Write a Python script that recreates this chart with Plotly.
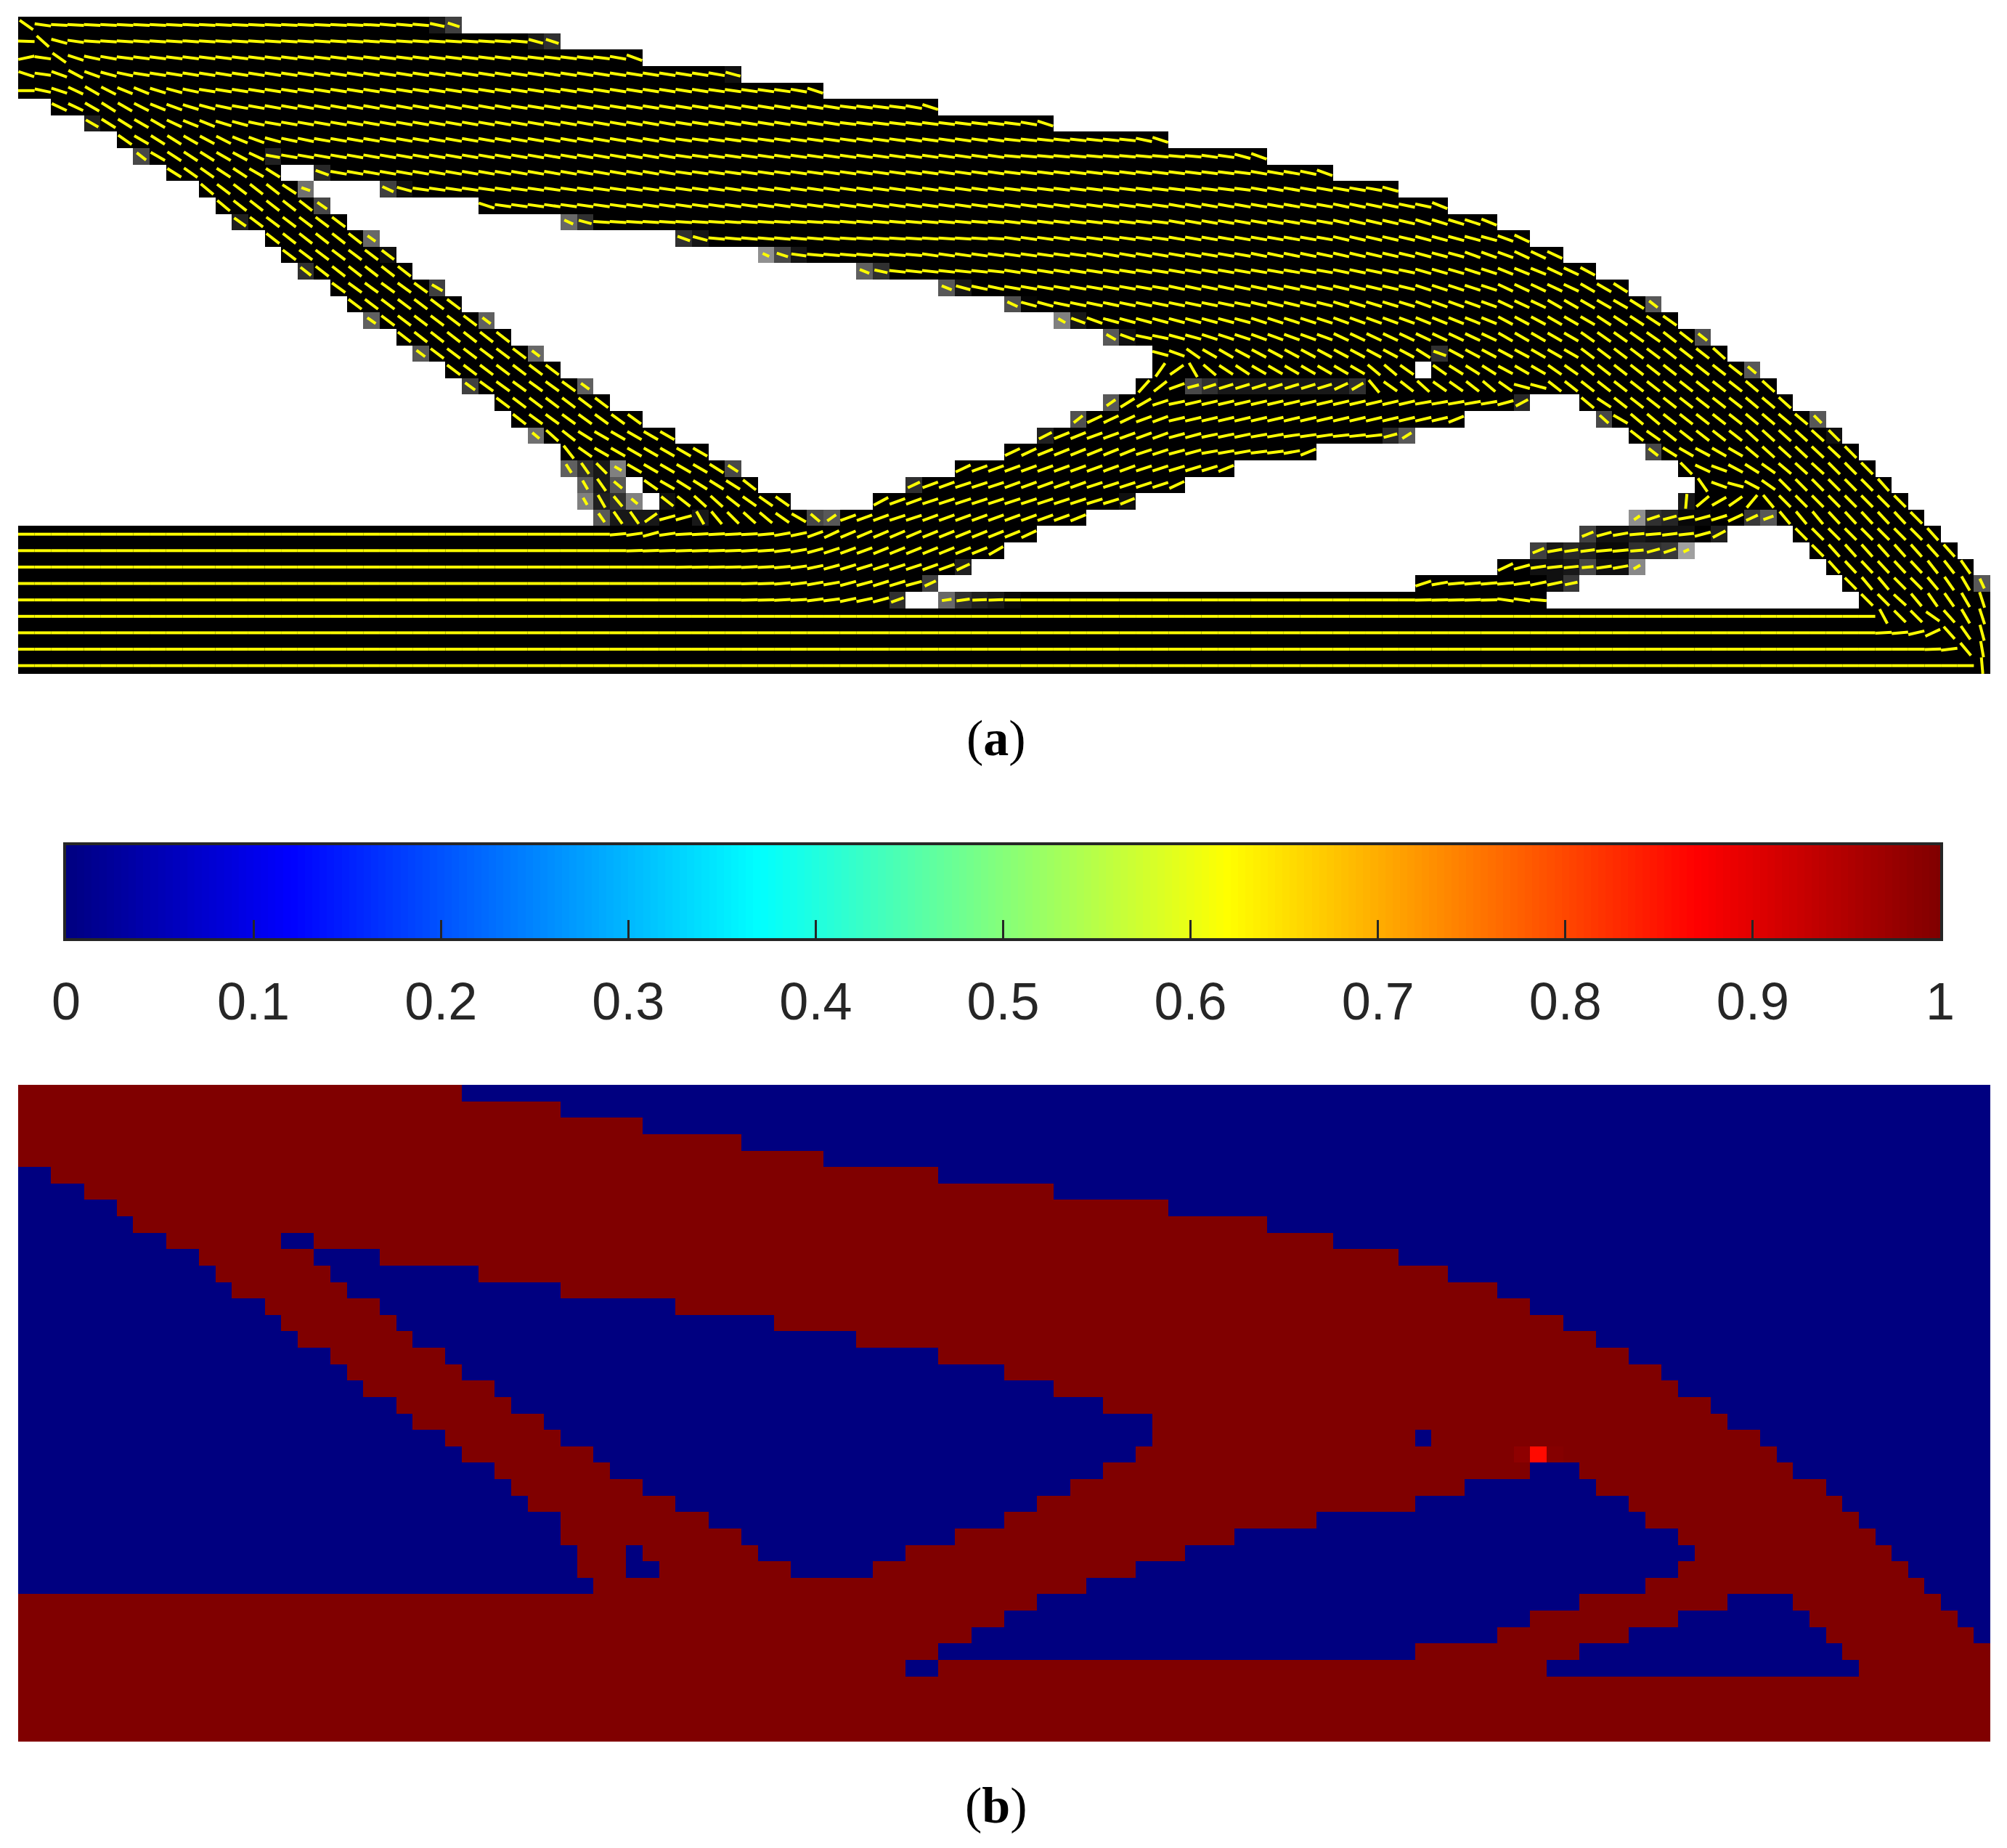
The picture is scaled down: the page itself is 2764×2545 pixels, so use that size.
import math
import numpy as np
import plotly.graph_objects as go

W, H = 2764, 2545
NROWS, NCOLS = 40, 120

# solid runs (first col, last col inclusive) per row, top to bottom
ROW_SPANS = [
    [(0, 26)], [(0, 32)], [(0, 37)], [(0, 43)], [(0, 48)],
    [(2, 55)], [(4, 62)], [(6, 69)], [(7, 75)],
    [(9, 15), (18, 79)], [(11, 17), (22, 83)], [(12, 18), (28, 86)],
    [(13, 19), (33, 89)], [(15, 21), (40, 91)], [(16, 22), (46, 93)],
    [(17, 23), (51, 95)], [(19, 25), (56, 97)], [(20, 26), (60, 99)],
    [(21, 28), (63, 100)], [(23, 29), (66, 102)], [(24, 31), (69, 103)],
    [(26, 32), (69, 84), (86, 105)], [(27, 34), (68, 106)],
    [(29, 35), (66, 91), (95, 107)], [(30, 37), (64, 87), (96, 109)],
    [(31, 39), (62, 84), (98, 110)], [(33, 41), (60, 78), (99, 111)],
    [(33, 43), (57, 73), (101, 112)],
    [(34, 36), (38, 44), (54, 70), (102, 113)],
    [(34, 36), (39, 46), (52, 67), (101, 114)],
    [(35, 64), (99, 115)], [(0, 61), (95, 103), (108, 116)],
    [(0, 59), (92, 100), (109, 117)], [(0, 57), (90, 97), (110, 118)],
    [(0, 55), (85, 94), (111, 119)], [(0, 53), (56, 92), (112, 119)],
    [(0, 119)], [(0, 119)], [(0, 119)], [(0, 119)],
]
# cells solid only in panel (a)
EXTRA_CELLS_A = [(14, 45), (29, 37), (30, 98), (32, 101), (33, 98)]

# partially dense cells of panel (a): row, col, grey level shown
GRAY_CELLS = [
    (0,25,0x18),(0,26,0x40),(1,31,0x18),(1,32,0x30),(6,4,0x20),(8,7,0x48),(8,15,0x20),(9,18,0x28),
    (10,17,0x70),(10,22,0x40),(10,23,0x10),(11,18,0x48),(12,13,0x20),(12,33,0x68),(12,34,0x30),
    (13,21,0x68),(14,22,0x10),(15,17,0x30),(16,25,0x40),(18,21,0x60),(18,28,0x60),(20,24,0x58),
    (20,31,0x68),(22,27,0x40),(22,34,0x60),(25,31,0x70),(27,33,0x60),(27,34,0x30),(27,35,0x18),
    (27,36,0x80),(28,34,0x60),(28,35,0x18),(28,36,0x58),(29,34,0x80),(29,35,0x20),(29,36,0x30),
    (29,37,0x80),(29,39,0x10),(30,35,0x58),(30,36,0x18),(30,37,0x18),(30,38,0x18),
    (3,43,0x10),(13,40,0x30),(13,41,0x15),(14,45,0x90),(14,46,0x48),(14,47,0x15),(15,51,0x60),
    (15,52,0x30),(16,56,0x58),(16,57,0x18),(17,60,0x50),(17,61,0x05),(18,63,0x80),(18,64,0x18),
    (19,66,0x58),(19,67,0x10),(22,71,0x48),(22,72,0x30),(22,73,0x18),(22,74,0x18),(22,75,0x18),
    (22,76,0x18),(22,77,0x18),(22,78,0x18),(22,79,0x18),(22,80,0x18),(22,81,0x30),(23,66,0x58),
    (24,64,0x50),(25,62,0x20),(27,43,0x48),(28,54,0x30),(29,67,0x10),(30,41,0x18),(30,48,0x48),
    (30,49,0x58),(33,57,0x20),(34,55,0x40),(35,53,0x30),(35,56,0x68),(35,57,0x30),(35,58,0x20),
    (35,59,0x18),(35,60,0x08),(20,86,0x30),(23,91,0x28),(25,83,0x28),(25,84,0x58),(17,99,0x58),
    (19,102,0x50),(21,105,0x58),(24,109,0x58),(24,96,0x48),(25,110,0x10),(26,99,0x48),(29,101,0x18),
    (30,98,0x90),(30,99,0x30),(30,100,0x25),(30,101,0x08),(30,102,0x08),(30,105,0x38),(30,106,0x58),
    (31,95,0x40),(31,96,0x10),(31,97,0x10),(31,98,0x18),(31,99,0x10),(31,100,0x10),(31,101,0x10),
    (31,103,0x20),(32,92,0x40),(32,93,0x18),(32,94,0x28),(32,95,0x20),(32,96,0x08),(32,97,0x08),
    (32,98,0x30),(32,99,0x30),(32,100,0x38),(32,101,0xA0),(33,92,0x10),(33,93,0x10),(33,94,0x18),
    (33,95,0x48),(33,96,0x10),(33,97,0x10),(33,98,0x88),(34,93,0x10),(34,94,0x38),(34,119,0x58),
]
# partially filled cells of panel (b): row, col, value
PARTIAL_B = [(22, 91, 0.986), (22, 92, 0.86), (22, 93, 0.995)]

# fibre angle readings, degrees, per row: (from col, angle)
ROW_ANGLES = [
    [(0,-35),(1,-8),(2,-3),(22,-5),(25,-12),(26,-18)],
    [(0,-2),(1,-42),(2,-15),(3,-8),(4,-4),(30,-5),(31,-15),(32,-18)],
    [(0,12),(1,-8),(2,-35),(3,-18),(4,-12),(5,-10),(6,-7),(36,-10),(37,-20)],
    [(0,-18),(1,-8),(2,-20),(3,-28),(4,-20),(5,-15),(6,-12),(7,-9),(42,-10),(43,-15)],
    [(0,0),(1,-12),(2,-18),(3,-25),(4,-30),(5,-27),(6,-22),(8,-17),(9,-15),(10,-12),(11,-9),(42,-8),(47,-10),(48,-18)],
    [(2,-25),(4,-30),(5,-32),(6,-30),(7,-27),(8,-22),(9,-20),(10,-17),(11,-15),(12,-12),(13,-10),(30,-9),(50,-7),(54,-10),(55,-18)],
    [(4,-30),(5,-32),(7,-30),(9,-25),(10,-22),(12,-17),(13,-15),(14,-12),(15,-10),(40,-9),(50,-7),(61,-10),(62,-18)],
    [(6,-35),(7,-30),(8,-32),(10,-30),(11,-28),(12,-27),(13,-22),(14,-20),(15,-15),(16,-12),(18,-10),(40,-8),(60,-6),(68,-12),(69,-18)],
    [(7,-38),(8,-30),(9,-33),(11,-32),(12,-30),(13,-28),(14,-25),(15,-10),(40,-8),(60,-5),(72,-8),(74,-15),(75,-20)],
    [(9,-32),(10,-35),(12,-33),(14,-30),(15,-32),(18,-20),(19,-10),(40,-8),(60,-7),(75,-10),(78,-12),(79,-20)],
    [(11,-40),(12,-37),(14,-38),(16,-33),(17,-20),(22,-25),(23,-15),(24,-8),(60,-7),(75,-10),(83,-15)],
    [(12,-40),(13,-38),(18,-35),(28,-18),(29,-8),(60,-8),(70,-10),(80,-12),(86,-22)],
    [(13,-35),(14,-37),(33,-25),(34,-15),(35,-4),(50,-5),(60,-7),(70,-10),(80,-13),(85,-17),(88,-18),(89,-22)],
    [(15,-38),(21,-35),(40,-20),(41,-15),(42,-5),(50,-4),(60,-8),(70,-10),(80,-13),(85,-15),(90,-20),(91,-25)],
    [(16,-37),(45,-25),(46,-18),(47,-8),(48,-5),(55,-8),(65,-10),(75,-12),(80,-13),(85,-15),(88,-20),(91,-25)],
    [(17,-38),(51,-22),(52,-12),(53,-6),(60,-9),(70,-10),(80,-12),(85,-16),(88,-18),(90,-22),(93,-25),(95,-28)],
    [(19,-36),(25,-30),(56,-22),(57,-15),(58,-12),(60,-10),(70,-12),(80,-13),(85,-18),(90,-25),(95,-30),(97,-32)],
    [(20,-37),(60,-25),(61,-15),(63,-12),(75,-14),(80,-17),(85,-20),(90,-25),(93,-30),(98,-32),(99,-38)],
    [(21,-35),(22,-37),(63,-30),(64,-20),(66,-15),(75,-18),(80,-20),(85,-22),(90,-28),(93,-30),(96,-33),(100,-35)],
    [(23,-38),(66,-30),(67,-20),(68,-12),(70,-15),(72,-18),(75,-20),(80,-25),(90,-30),(95,-35),(100,-38)],
    [(24,-37),(69,-15),(70,-20),(71,-35),(72,-30),(74,-28),(85,-32),(86,-20),(87,-28),(92,-30),(95,-37),(100,-38),(103,-42)],
    [(26,-37),(69,55),(70,35),(71,-60),(72,-40),(73,-33),(75,-30),(82,-40),(84,-35),(87,-32),(90,-28),(91,-30),(93,-35),(95,-38),(105,-40)],
    [(27,-36),(68,48),(69,38),(70,20),(71,15),(72,18),(73,17),(80,25),(81,30),(82,-50),(83,-35),(84,-38),(85,-42),(86,-35),(88,-38),(89,-40),(90,-35),(91,-15),(93,-38),(105,-40),(106,-42)],
    [(29,-37),(66,35),(67,32),(68,30),(69,18),(70,12),(71,13),(85,10),(90,15),(91,28),(95,-40),(96,-33),(97,-38),(105,-40),(107,-42)],
    [(30,-38),(31,-36),(64,38),(65,25),(68,20),(70,13),(87,22),(96,-42),(97,-30),(98,-40),(100,-38),(105,-40),(109,-45)],
    [(31,-40),(32,-42),(33,-38),(34,-32),(35,-30),(62,27),(63,22),(65,20),(70,15),(72,12),(75,10),(77,8),(80,6),(83,15),(84,32),(98,-38),(99,-35),(100,-38),(105,-42),(110,-45)],
    [(33,-52),(34,-35),(35,-30),(60,25),(62,22),(68,18),(70,15),(72,10),(75,7),(77,10),(78,22),(99,-38),(100,-32),(101,-30),(102,-28),(103,-30),(105,-40),(106,-42),(108,-43),(111,-45)],
    [(33,-58),(34,-55),(35,-45),(36,-30),(42,-32),(43,-33),(57,25),(58,20),(68,18),(70,17),(73,22),(101,-45),(102,-25),(103,-20),(104,-28),(105,-32),(106,-35),(107,-40),(108,-42),(110,-45)],
    [(34,-60),(35,-55),(36,-40),(38,-35),(39,-30),(40,-32),(44,-38),(54,25),(55,20),(57,18),(60,20),(65,18),(70,25),(102,-55),(103,-20),(104,-15),(105,-28),(106,-35),(107,-45),(113,-48)],
    [(34,-60),(36,-50),(37,-40),(39,-38),(41,-42),(43,-38),(44,-35),(52,28),(53,20),(55,18),(65,17),(67,22),(101,85),(102,40),(103,30),(104,35),(105,50),(106,-50),(107,-45)],
    [(35,-55),(38,35),(39,15),(41,-60),(42,-50),(43,-45),(44,-42),(45,-40),(46,-35),(47,-30),(48,-40),(49,35),(50,20),(53,18),(55,20),(64,22),(98,35),(99,18),(100,15),(101,10),(102,15),(103,17),(104,25),(106,20),(107,-50),(110,-47),(115,-45)],
    [(0,0),(36,5),(37,8),(38,15),(39,8),(40,3),(45,5),(46,10),(47,12),(48,20),(49,25),(50,23),(55,22),(61,25),(95,22),(96,15),(97,10),(98,5),(100,7),(101,6),(102,15),(103,28),(108,-45),(116,-48)],
    [(0,0),(37,2),(44,4),(46,7),(47,10),(48,15),(49,18),(50,20),(52,22),(59,30),(92,22),(93,10),(94,8),(95,7),(96,5),(99,15),(100,18),(101,25),(109,-45),(110,-48)],
    [(0,0),(40,1),(44,3),(46,5),(47,8),(48,12),(49,15),(50,17),(52,18),(55,20),(57,25),(90,25),(91,15),(92,8),(93,6),(95,5),(96,8),(97,10),(98,30),(110,-48),(111,-47),(116,-52),(118,-55)],
    [(0,0),(44,2),(46,5),(47,7),(48,10),(50,15),(52,17),(54,15),(55,25),(85,18),(86,10),(87,5),(91,8),(92,12),(111,-45),(112,-50),(114,-45),(116,-50),(117,-55),(118,-60),(119,-65)],
    [(0,0),(44,1),(46,3),(48,7),(50,12),(52,15),(53,20),(56,8),(58,2),(60,0),(85,1),(88,2),(89,1),(90,-8),(92,-5),(112,-45),(114,-42),(115,-50),(116,-55),(118,-60),(119,-72)],
    [(0,0),(113,-62),(114,-45),(116,-35),(117,-48),(118,-60),(119,-72)],
    [(0,0),(113,3),(114,5),(115,13),(116,25),(117,-48),(118,-55),(119,-75)],
    [(0,0),(116,2),(117,7),(118,-50),(119,-80)],
    [(0,0),(119,-85)],
]

CBAR_TICKS = [0, 0.1, 0.2, 0.3, 0.4, 0.5, 0.6, 0.7, 0.8, 0.9, 1]
CBAR_LABELS = ["0", "0.1", "0.2", "0.3", "0.4", "0.5", "0.6", "0.7", "0.8", "0.9", "1"]
JET = [[0, "#000080"], [0.12, "#0000ff"], [0.37, "#00ffff"], [0.62, "#ffff00"],
       [0.87, "#ff0000"], [1, "#800000"]]
CAPTIONS = ["(<b>a</b>)", "(<b>b</b>)"]

# ---- fields built from the readings ----
mask_b = np.zeros((NROWS, NCOLS))
for r, spans in enumerate(ROW_SPANS):
    for a, b in spans:
        mask_b[r, a:b + 1] = 1
density_a = mask_b.copy()
for r, c in EXTRA_CELLS_A:
    density_a[r, c] = 1
for r, c, g in GRAY_CELLS:
    density_a[r, c] = 1 - g / 255
field_b = mask_b.copy()
for r, c, v in PARTIAL_B:
    field_b[r, c] = v

sx, sy = [], []
for r, bps in enumerate(ROW_ANGLES):
    for c in range(NCOLS):
        rho = density_a[r, c]
        if rho <= 0:
            continue
        ang = bps[0][1]
        for col, val in bps:
            if col <= c:
                ang = val
        t = math.radians(ang)
        L = 0.5 * rho
        sx += [c - L * math.cos(t), c + L * math.cos(t), None]
        sy += [r + L * math.sin(t), r - L * math.sin(t), None]

cols = list(range(NCOLS))
rows = list(range(NROWS))
fig = go.Figure()
fig.add_trace(go.Heatmap(z=density_a.tolist(), x=cols, y=rows, xaxis="x", yaxis="y", zmin=0, zmax=1,
                         colorscale=[[0, "#ffffff"], [1, "#000000"]], showscale=False, hoverinfo="skip"))
fig.add_trace(go.Scatter(x=sx, y=sy, xaxis="x", yaxis="y", mode="lines",
                         line=dict(color="#ffff00", width=4), showlegend=False, hoverinfo="skip"))
ramp = np.linspace(0, 1, 256)
fig.add_trace(go.Heatmap(z=[ramp.tolist()], x=ramp.tolist(), y=[0], xaxis="x2", yaxis="y2", zmin=0, zmax=1,
                         colorscale=JET, showscale=False, hoverinfo="skip"))
fig.add_trace(go.Heatmap(z=field_b.tolist(), x=cols, y=rows, xaxis="x3", yaxis="y3", zmin=0, zmax=1,
                         colorscale=JET, showscale=False, hoverinfo="skip"))


def xdom(a, b):
    return [a / W, b / W]


def ydom(top, bottom):
    return [1 - bottom / H, 1 - top / H]


hidden = dict(visible=False, showgrid=False, zeroline=False, automargin=False)
fig.update_layout(
    width=W, height=H, margin=dict(l=0, r=0, t=0, b=0),
    paper_bgcolor="#ffffff", plot_bgcolor="#ffffff", showlegend=False,
    xaxis=dict(domain=xdom(25, 2741), range=[-0.5, 119.5], **hidden),
    yaxis=dict(domain=ydom(23, 928), range=[39.5, -0.5], **hidden),
    xaxis2=dict(domain=xdom(91, 2672), range=[0, 1], anchor="y2", tickmode="array",
                tickvals=CBAR_TICKS, ticktext=CBAR_LABELS, ticks="inside", ticklen=25,
                tickwidth=3, tickcolor="#262626", showline=True, linecolor="#262626",
                linewidth=4, mirror=True, showgrid=False, zeroline=False, automargin=False,
                ticklabelstandoff=22,
                tickfont=dict(family="Liberation Sans", size=72, color="#262626")),
    yaxis2=dict(domain=ydom(1164, 1292), range=[-0.5, 0.5], anchor="x2", showticklabels=False,
                ticks="", showline=True, linecolor="#262626", linewidth=4, mirror=True,
                showgrid=False, zeroline=False, automargin=False),
    xaxis3=dict(domain=xdom(25, 2741), range=[-0.5, 119.5], anchor="y3", **hidden),
    yaxis3=dict(domain=ydom(1494, 2398.5), range=[39.5, -0.5], anchor="x3", **hidden),
    annotations=[
        dict(text=CAPTIONS[0], x=1372 / W, y=1 - 1016 / H, xref="paper", yref="paper", showarrow=False,
             xanchor="center", yanchor="middle", font=dict(family="Liberation Serif", size=70, color="#000000")),
        dict(text=CAPTIONS[1], x=1372 / W, y=1 - 2486 / H, xref="paper", yref="paper", showarrow=False,
             xanchor="center", yanchor="middle", font=dict(family="Liberation Serif", size=70, color="#000000")),
    ],
)
fig.write_html("out.html", post_script="document.body.style.margin='0';",
               config={"displayModeBar": False})
